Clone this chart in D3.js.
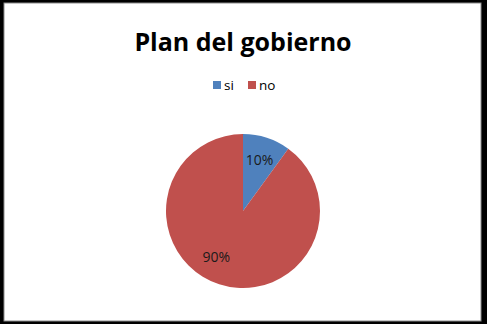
<!DOCTYPE html>
<html>
<head>
<meta charset="utf-8">
<script src="https://cdn.jsdelivr.net/npm/d3@7"></script>
<style>
  body { margin: 0; background: #fff; }
  svg text { font-family: "Open Sans", "Liberation Sans", sans-serif; }
</style>
</head>
<body>
<div id="chartArea"></div>
<script>
// datos del grafico
var categories = ["si", "no"];
var values = [10, 90];
var colors = ["#4F81BD", "#C0504D"];
var titleText = "Plan del gobierno";

var W = 487, H = 324;
var svg = d3.select("#chartArea").append("svg")
    .attr("width", W).attr("height", H);

// marco negro
svg.append("rect").attr("x", 0).attr("y", 0).attr("width", W).attr("height", H).attr("fill", "#000");
svg.append("rect").attr("x", 4).attr("y", 3).attr("width", 477).attr("height", 318)
    .attr("fill", "#fff").attr("stroke", "#8c8c8c").attr("stroke-width", 1);

// titulo
svg.append("text")
    .attr("x", 243).attr("y", 51)
    .attr("text-anchor", "middle")
    .style("font-weight", "bold")
    .style("font-size", "25px")
    .attr("fill", "#000")
    .text(titleText);

// leyenda
var legendX = [213, 248];
var legend = svg.selectAll(".legend").data(categories).enter().append("g")
    .attr("class", "legend")
    .attr("transform", function(d, i) { return "translate(" + legendX[i] + ",81)"; });
legend.append("rect").attr("width", 8).attr("height", 8)
    .attr("fill", function(d, i) { return colors[i]; });
legend.append("text").attr("x", 11).attr("y", 9)
    .style("font-size", "13.5px").attr("fill", "#000")
    .text(function(d) { return d; });

// torta
var cx = 243, cy = 211, r = 77;
var pie = d3.pie().sort(null).value(function(d) { return d; });
var arcs = pie(values);
var arc = d3.arc().innerRadius(0).outerRadius(r);
var g = svg.append("g").attr("transform", "translate(" + cx + "," + cy + ")");

g.selectAll("path").data(arcs).enter().append("path")
    .attr("d", arc)
    .attr("fill", function(d, i) { return colors[i]; });

// etiquetas (ajuste de angulo como en Excel)
var total = d3.sum(values);
var labelShift = [0, 0.21];
var labelR = 53.5;
g.selectAll(".lbl").data(arcs).enter().append("text")
    .attr("class", "lbl")
    .attr("transform", function(d, i) {
        var a = (d.startAngle + d.endAngle) / 2 + labelShift[i];
        return "translate(" + (Math.sin(a) * labelR) + "," + (-Math.cos(a) * labelR) + ")";
    })
    .attr("text-anchor", "middle")
    .attr("dy", "0.35em")
    .style("font-size", "14px")
    .attr("fill", "#1a1a1a")
    .text(function(d) { return Math.round(d.value / total * 100) + "%"; });
</script>
</body>
</html>
